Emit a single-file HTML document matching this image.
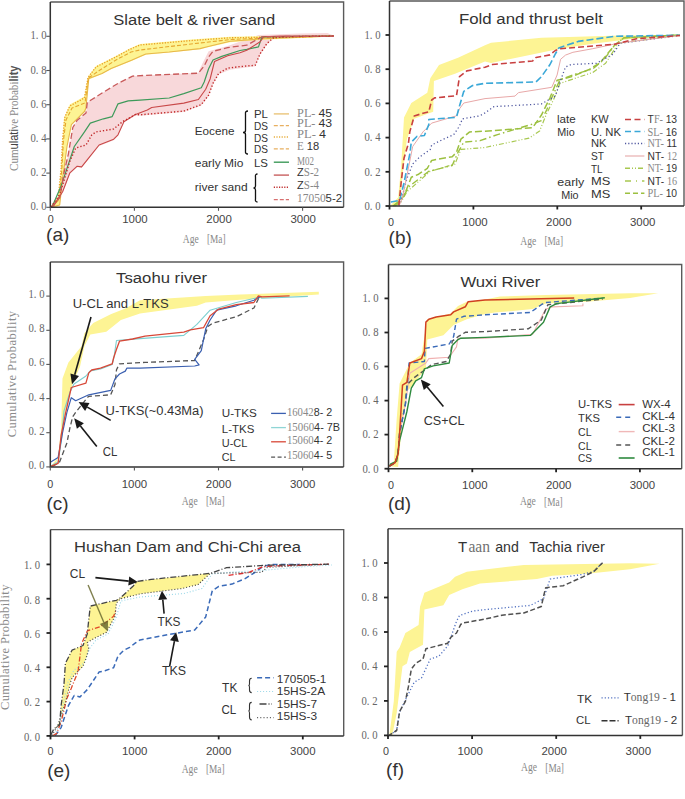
<!DOCTYPE html>
<html><head><meta charset="utf-8"><style>
html,body{margin:0;padding:0;background:#fff;}
svg{display:block;}
</style></head><body>
<svg width="685" height="799" viewBox="0 0 685 799">
<rect width="685" height="799" fill="#ffffff"/>
<path d="M56.0,207.0 L59.7,197.6 L64.0,172.8 L68.4,153.8 L72.8,127.5 L77.2,120.2 L86.0,112.9 L87.3,102.4 L103.4,92.2 L118.0,83.4 L132.6,76.1 L145.0,75.4 L198.4,72.8 L199.9,68.8 L204.2,60.0 L208.6,51.3 L227.6,46.0 L258.5,35.1 L300.0,33.5 L327.4,33.0 L334.0,35.8 L334.0,36.6 L273.6,38.5 L266.9,44.5 L260.2,54.6 L255.2,66.3 L230.0,69.7 L218.8,74.2 L213.0,84.4 L208.6,96.1 L201.3,105.6 L183.8,112.1 L140.0,115.8 L135.6,115.4 L122.5,122.7 L118.0,135.8 L113.7,140.2 L99.1,146.0 L87.4,160.6 L81.6,167.9 L77.2,167.2 L69.9,173.8 L62.6,192.8 L53.8,206.6 Z" fill="#F8D8DA" fill-opacity="1" stroke="none"/>
<path d="M51.0,206.0 L52.4,205.0 L58.2,197.6 L61.1,168.4 L62.6,139.2 L64.0,118.4 L69.8,104.6 L84.4,96.5 L88.0,76.8 L96.0,65.9 L115.0,56.4 L129.7,48.4 L140.0,44.0 L191.1,39.6 L230.0,36.8 L262.0,36.2 L334.0,35.6 L334.0,36.6 L263.6,39.8 L230.0,42.3 L207.2,47.4 L200.0,49.2 L169.2,52.6 L145.8,54.8 L140.0,57.2 L131.5,61.0 L111.1,69.2 L102.0,74.0 L88.8,79.5 L85.9,110.0 L84.5,111.5 L71.4,124.6 L67.0,146.5 L62.6,178.6 L59.7,205.6 L56.0,207.0 Z" fill="#FDF494" fill-opacity="1" stroke="none"/>
<path d="M52.0,207.0 L59.7,205.0 L62.6,178.6 L67.0,146.5 L71.4,124.6 L84.5,111.5 L85.9,108.0 L88.8,78.5 L102.0,73.5 L111.1,68.6 L131.5,60.3 L140.0,56.5 L145.8,54.0 L169.2,52.0 L200.0,48.6 L207.2,46.8 L230.0,41.3 L263.6,38.8 L334.0,36.0" fill="none" stroke="#E8B84A" stroke-width="1.1" stroke-linejoin="round" stroke-opacity="1"/>
<path d="M51.0,207.0 L59.0,200.0 L61.8,170.0 L63.5,140.0 L66.0,120.0 L72.0,108.0 L85.0,103.0 L88.4,78.0 L100.0,70.0 L116.0,60.0 L131.0,52.0 L140.0,50.0 L191.0,44.0 L230.0,39.6 L262.0,38.0 L334.0,36.0" fill="none" stroke="#E6A830" stroke-width="1.1" stroke-dasharray="4,2" stroke-linejoin="round" stroke-opacity="1"/>
<path d="M51.0,207.0 L58.2,197.6 L61.1,168.4 L62.6,139.2 L64.8,117.3 L69.8,106.0 L84.4,98.0 L88.0,77.5 L96.0,67.0 L115.0,57.4 L129.7,49.4 L140.0,45.0 L191.1,40.6 L230.0,37.8 L262.0,37.2 L334.0,36.0" fill="none" stroke="#E89A20" stroke-width="1.3" stroke-dasharray="1.2,1.5" stroke-linejoin="round" stroke-opacity="1"/>
<path d="M52.0,207.0 L61.1,185.9 L67.0,168.4 L74.3,146.5 L84.5,131.9 L90.3,123.1 L103.5,118.8 L112.2,116.6 L115.2,110.0 L118.0,103.8 L128.2,100.9 L140.0,100.2 L169.2,98.0 L183.8,93.6 L201.3,87.8 L204.2,82.0 L208.6,68.8 L213.0,60.0 L221.8,56.4 L240.0,50.5 L246.8,49.4 L258.5,46.9 L261.9,36.8 L300.0,36.3 L334.0,36.0" fill="none" stroke="#3E9A5A" stroke-width="1.2" stroke-linejoin="round" stroke-opacity="1"/>
<path d="M50.5,207.0 L53.8,205.6 L62.6,191.8 L69.9,172.8 L77.2,166.2 L81.6,166.9 L87.4,159.6 L99.1,145.0 L113.7,139.2 L118.0,134.8 L123.9,121.7 L135.6,114.4 L147.3,110.0 L151.7,107.5 L183.8,103.1 L198.4,99.5 L205.7,89.2 L210.1,79.0 L214.5,61.5 L227.6,55.7 L240.0,52.7 L246.8,50.2 L260.2,41.8 L263.6,36.8 L280.4,36.0 L330.7,36.3 L334.0,36.0" fill="none" stroke="#C84848" stroke-width="1.1" stroke-linejoin="round" stroke-opacity="1"/>
<path d="M51.0,207.0 L59.7,194.7 L69.9,161.1 L75.7,148.0 L86.0,145.0 L91.8,134.8 L96.2,131.9 L113.7,129.0 L122.5,121.7 L135.6,114.4 L140.0,114.8 L183.8,111.1 L201.3,104.6 L208.6,95.1 L213.0,83.4 L218.8,73.2 L227.6,68.1 L240.0,66.6 L255.2,65.3 L260.2,53.6 L266.9,43.5 L273.6,37.6 L300.0,36.5 L334.0,36.0" fill="none" stroke="#C02828" stroke-width="1.4" stroke-dasharray="1.3,2" stroke-linejoin="round" stroke-opacity="1"/>
<path d="M52.0,207.0 L59.7,197.6 L64.0,172.8 L68.4,153.8 L72.8,127.5 L77.2,120.2 L86.0,112.9 L87.3,102.4 L103.4,92.2 L118.0,83.4 L132.6,76.1 L145.0,75.4 L198.4,73.2 L204.2,65.9 L208.6,57.1 L213.0,51.3 L227.6,47.6 L246.8,45.2 L261.9,36.8 L300.0,36.3 L334.0,36.0" fill="none" stroke="#C85A5A" stroke-width="1.3" stroke-dasharray="6,3" stroke-linejoin="round" stroke-opacity="1"/>
<path d="M390.0,206.0 L398.1,197.6 L401.0,168.4 L404.0,117.6 L411.3,103.0 L427.3,92.8 L430.3,78.2 L439.0,65.0 L458.0,57.7 L485.0,45.3 L491.0,42.8 L541.4,37.8 L560.0,37.3 L620.2,35.6 L679.0,35.0 L679.0,36.2 L633.0,38.7 L596.5,43.2 L560.0,48.7 L551.5,50.4 L491.0,63.0 L485.0,61.4 L455.0,73.8 L433.9,81.1 L433.2,111.8 L414.2,118.8 L406.9,139.2 L402.5,175.7 L399.6,204.9 L397.0,206.0 Z" fill="#FDF494" fill-opacity="1" stroke="none"/>
<path d="M395.0,206.0 L401.0,202.0 L406.9,191.8 L430.3,171.3 L455.0,164.0 L460.9,149.4 L485.0,147.5 L529.1,138.1 L539.6,131.1 L546.6,113.6 L553.6,99.6 L560.0,83.4 L592.8,72.4 L605.6,63.3 L618.4,43.2 L680.0,35.0" fill="none" stroke="#A8C850" stroke-width="1.2" stroke-dasharray="5,2,1,2,1,2" stroke-linejoin="round" stroke-opacity="1"/>
<path d="M394.0,206.0 L400.0,201.0 L409.8,185.9 L428.8,171.3 L452.2,165.5 L458.0,152.3 L463.8,142.1 L480.0,140.7 L497.5,134.6 L532.6,124.1 L541.3,120.6 L546.6,110.1 L551.8,97.8 L560.0,79.7 L574.6,74.3 L592.8,68.8 L603.8,59.7 L614.7,45.1 L623.9,37.8 L680.0,35.0" fill="none" stroke="#9CC040" stroke-width="1.4" stroke-dasharray="7,3,1.5,3" stroke-linejoin="round" stroke-opacity="1"/>
<path d="M393.0,206.0 L398.0,202.0 L404.0,196.0 L411.3,177.2 L418.6,174.2 L427.3,168.4 L431.7,160.4 L452.2,156.7 L456.5,152.3 L460.9,139.2 L469.7,131.9 L485.0,131.2 L532.6,127.6 L541.3,115.3 L550.0,97.8 L557.1,80.3 L571.1,76.8 L588.6,69.8 L600.0,62.8 L614.7,45.1 L623.9,37.8 L680.0,35.0" fill="none" stroke="#9CC040" stroke-width="1.5" stroke-dasharray="7,3" stroke-linejoin="round" stroke-opacity="1"/>
<path d="M399.0,206.0 L401.1,200.5 L406.9,178.6 L412.7,164.0 L420.0,156.7 L430.3,149.4 L431.7,145.0 L443.4,139.2 L453.6,134.8 L459.5,126.1 L462.4,118.8 L479.9,115.8 L485.0,112.9 L494.0,106.6 L541.3,104.0 L555.3,96.1 L560.6,80.3 L565.5,67.0 L571.1,64.5 L596.5,63.3 L612.9,54.2 L620.2,43.2 L680.0,35.5" fill="none" stroke="#5058A0" stroke-width="1.3" stroke-dasharray="1.2,2.5" stroke-linejoin="round" stroke-opacity="1"/>
<path d="M399.0,206.0 L402.5,197.6 L406.9,175.7 L412.7,146.5 L423.0,131.9 L431.7,123.1 L446.3,118.8 L456.5,115.8 L459.5,108.8 L463.8,103.0 L485.0,98.6 L515.0,96.1 L518.5,92.6 L551.8,87.3 L557.1,75.0 L560.6,59.3 L565.5,55.1 L572.9,52.3 L592.8,48.7 L618.4,43.2 L680.0,35.5" fill="none" stroke="#E8A8A8" stroke-width="1.0" stroke-linejoin="round" stroke-opacity="1"/>
<path d="M390.8,202.0 L399.6,200.5 L404.0,183.0 L409.8,153.8 L411.3,142.1 L417.1,136.3 L424.4,135.5 L428.8,124.6 L428.8,119.5 L456.5,117.3 L459.5,105.9 L463.8,91.3 L472.6,85.5 L485.0,83.3 L536.0,82.0 L541.3,76.8 L550.0,64.5 L555.3,54.0 L558.8,47.9 L578.2,41.4 L614.7,36.3 L680.0,35.2" fill="none" stroke="#3AA8D8" stroke-width="1.6" stroke-dasharray="7,3" stroke-linejoin="round" stroke-opacity="1"/>
<path d="M398.9,205.0 L401.1,183.0 L404.0,158.2 L408.4,143.6 L409.8,131.9 L414.2,116.1 L423.0,113.2 L428.8,111.8 L431.7,100.0 L434.6,97.9 L456.5,95.7 L459.5,76.7 L466.8,70.9 L485.0,67.2 L492.3,64.5 L532.6,61.0 L536.0,57.5 L550.0,54.9 L555.3,50.5 L560.0,48.7 L614.7,44.2 L636.6,38.7 L680.0,35.5" fill="none" stroke="#C84040" stroke-width="1.6" stroke-dasharray="6,3" stroke-linejoin="round" stroke-opacity="1"/>
<text x="194.8" y="134.7" font-size="11.5" font-family='"Liberation Sans", sans-serif' fill="#333" textLength="39.7" lengthAdjust="spacingAndGlyphs">Eocene</text>
<text x="194.8" y="166.9" font-size="11.5" font-family='"Liberation Sans", sans-serif' fill="#333" textLength="48.6" lengthAdjust="spacingAndGlyphs">early Mio</text>
<text x="194.8" y="191.4" font-size="11.5" font-family='"Liberation Sans", sans-serif' fill="#333" textLength="52.8" lengthAdjust="spacingAndGlyphs">river sand</text>
<path d="M248,111 Q245.0,111 245.5,114 L245.5,130.5 Q245.5,132.5 243,132.5 Q245.5,132.5 245.5,134.5 L245.5,151 Q245.0,154 248,154" fill="none" stroke="#111" stroke-width="1.3"/>
<path d="M257.5,174 Q255.0,174 255.5,177 L255.5,186.0 Q255.5,188.0 253.5,188.0 Q255.5,188.0 255.5,190.0 L255.5,199 Q255.0,202 257.5,202" fill="none" stroke="#111" stroke-width="1.3"/>
<text x="253.9" y="118.3" font-size="11.5" font-family='"Liberation Sans", sans-serif' fill="#333" textLength="14" lengthAdjust="spacingAndGlyphs">PL</text>
<text x="253.9" y="129.5" font-size="11.5" font-family='"Liberation Sans", sans-serif' fill="#333" textLength="14" lengthAdjust="spacingAndGlyphs">DS</text>
<text x="253.9" y="141.7" font-size="11.5" font-family='"Liberation Sans", sans-serif' fill="#333" textLength="14" lengthAdjust="spacingAndGlyphs">DS</text>
<text x="253.9" y="152.9" font-size="11.5" font-family='"Liberation Sans", sans-serif' fill="#333" textLength="14" lengthAdjust="spacingAndGlyphs">DS</text>
<text x="253.9" y="166.9" font-size="11.5" font-family='"Liberation Sans", sans-serif' fill="#333" textLength="14" lengthAdjust="spacingAndGlyphs">LS</text>
<line x1="273.8" y1="113.9" x2="289" y2="113.9" stroke="#E8C070" stroke-width="1.3"/>
<line x1="273.8" y1="125.6" x2="289" y2="125.6" stroke="#E8B060" stroke-width="1.3" stroke-dasharray="4,2"/>
<line x1="273.8" y1="137" x2="289" y2="137" stroke="#E8B040" stroke-width="1.5" stroke-dasharray="1.2,1.4"/>
<line x1="273.8" y1="148.9" x2="289" y2="148.9" stroke="#E8B060" stroke-width="1.3" stroke-dasharray="4,2"/>
<line x1="273.8" y1="162.2" x2="289" y2="162.2" stroke="#3E9A5A" stroke-width="1.4"/>
<line x1="273.8" y1="175.1" x2="289" y2="175.1" stroke="#C86060" stroke-width="1.4"/>
<line x1="273.8" y1="187.2" x2="289" y2="187.2" stroke="#C03030" stroke-width="1.5" stroke-dasharray="1.2,1.4"/>
<line x1="273.8" y1="199.6" x2="289" y2="199.6" stroke="#D87070" stroke-width="1.4" stroke-dasharray="4,2"/>
<text x="297.1" y="116.7" font-size="11.5" textLength="35" lengthAdjust="spacingAndGlyphs"><tspan font-family='"Liberation Serif", serif' fill="#888">PL- </tspan><tspan font-family='"Liberation Sans", sans-serif' fill="#333">45</tspan></text>
<text x="297.1" y="127.2" font-size="11.5" textLength="35" lengthAdjust="spacingAndGlyphs"><tspan font-family='"Liberation Serif", serif' fill="#888">PL- </tspan><tspan font-family='"Liberation Sans", sans-serif' fill="#333">43</tspan></text>
<text x="297.1" y="137.7" font-size="11.5" textLength="29" lengthAdjust="spacingAndGlyphs"><tspan font-family='"Liberation Serif", serif' fill="#888">PL- </tspan><tspan font-family='"Liberation Sans", sans-serif' fill="#333">4</tspan></text>
<text x="297.1" y="150.1" font-size="11.5" textLength="22" lengthAdjust="spacingAndGlyphs"><tspan font-family='"Liberation Serif", serif' fill="#888">E </tspan><tspan font-family='"Liberation Sans", sans-serif' fill="#333">18</tspan></text>
<text x="297.1" y="164.6" font-size="11.5" textLength="17" lengthAdjust="spacingAndGlyphs"><tspan font-family='"Liberation Serif", serif' fill="#888">M02</tspan></text>
<text x="297.1" y="176.2" font-size="11.5" textLength="22" lengthAdjust="spacingAndGlyphs"><tspan font-family='"Liberation Sans", sans-serif' fill="#333">Z</tspan><tspan font-family='"Liberation Serif", serif' fill="#888">S-2</tspan></text>
<text x="297.1" y="189.1" font-size="11.5" textLength="22" lengthAdjust="spacingAndGlyphs"><tspan font-family='"Liberation Sans", sans-serif' fill="#333">Z</tspan><tspan font-family='"Liberation Serif", serif' fill="#888">S-4</tspan></text>
<text x="297.1" y="201.9" font-size="11.5" textLength="45" lengthAdjust="spacingAndGlyphs"><tspan font-family='"Liberation Serif", serif' fill="#888">17050</tspan><tspan font-family='"Liberation Sans", sans-serif' fill="#333">5-2</tspan></text>
<text x="556.9" y="123.4" font-size="11.5" font-family='"Liberation Sans", sans-serif' fill="#333" textLength="18.7" lengthAdjust="spacingAndGlyphs">late</text>
<text x="557.3" y="135.6" font-size="11.5" font-family='"Liberation Sans", sans-serif' fill="#333" textLength="17.4" lengthAdjust="spacingAndGlyphs">Mio</text>
<text x="557.3" y="186.2" font-size="11.5" font-family='"Liberation Sans", sans-serif' fill="#333" textLength="27" lengthAdjust="spacingAndGlyphs">early</text>
<text x="561.2" y="198.6" font-size="11.5" font-family='"Liberation Sans", sans-serif' fill="#333" textLength="17.4" lengthAdjust="spacingAndGlyphs">Mio</text>
<text x="591.0" y="123.4" font-size="11.5" font-family='"Liberation Sans", sans-serif' fill="#333" textLength="17.7" lengthAdjust="spacingAndGlyphs">KW</text>
<text x="591.0" y="135.6" font-size="11.5" font-family='"Liberation Sans", sans-serif' fill="#333" textLength="30" lengthAdjust="spacingAndGlyphs">U. NK</text>
<text x="591.0" y="147.4" font-size="11.5" font-family='"Liberation Sans", sans-serif' fill="#333" textLength="15.5" lengthAdjust="spacingAndGlyphs">NK</text>
<text x="591.0" y="160.0" font-size="11.5" font-family='"Liberation Sans", sans-serif' fill="#333" textLength="13" lengthAdjust="spacingAndGlyphs">ST</text>
<text x="591.0" y="172.5" font-size="11.5" font-family='"Liberation Sans", sans-serif' fill="#333" textLength="11.6" lengthAdjust="spacingAndGlyphs">TL</text>
<text x="591.0" y="185.2" font-size="11.5" font-family='"Liberation Sans", sans-serif' fill="#333" textLength="19.3" lengthAdjust="spacingAndGlyphs">MS</text>
<text x="591.0" y="197.6" font-size="11.5" font-family='"Liberation Sans", sans-serif' fill="#333" textLength="19.3" lengthAdjust="spacingAndGlyphs">MS</text>
<line x1="625" y1="119.5" x2="644.4" y2="119.5" stroke="#C84040" stroke-width="1.5" stroke-dasharray="6,3.5"/>
<line x1="625" y1="131.5" x2="644.4" y2="131.5" stroke="#3AA8D8" stroke-width="1.6" stroke-dasharray="6,3.5"/>
<line x1="625" y1="143.5" x2="644.4" y2="143.5" stroke="#5058A0" stroke-width="1.3" stroke-dasharray="1.2,2"/>
<line x1="625" y1="156" x2="644.4" y2="156" stroke="#E8B0B0" stroke-width="1.2"/>
<line x1="625" y1="168.3" x2="644.4" y2="168.3" stroke="#A8C850" stroke-width="1.5" stroke-dasharray="5,2,1,2,1,2"/>
<line x1="625" y1="181" x2="644.4" y2="181" stroke="#A8C850" stroke-width="1.5" stroke-dasharray="6,5,1,5"/>
<line x1="625" y1="193.3" x2="644.4" y2="193.3" stroke="#9CC040" stroke-width="1.6" stroke-dasharray="5,3"/>
<text x="647.6" y="123.4" font-size="11.5" textLength="29.5" lengthAdjust="spacingAndGlyphs"><tspan font-family='"Liberation Sans", sans-serif' fill="#333">T</tspan><tspan font-family='"Liberation Serif", serif' fill="#888">F- </tspan><tspan font-family='"Liberation Sans", sans-serif' fill="#333">13</tspan></text>
<text x="647.6" y="135.6" font-size="11.5" textLength="29.5" lengthAdjust="spacingAndGlyphs"><tspan font-family='"Liberation Serif", serif' fill="#888">SL- </tspan><tspan font-family='"Liberation Sans", sans-serif' fill="#333">16</tspan></text>
<text x="647.6" y="147.4" font-size="11.5" textLength="29.5" lengthAdjust="spacingAndGlyphs"><tspan font-family='"Liberation Serif", serif' fill="#888">NT- </tspan><tspan font-family='"Liberation Sans", sans-serif' fill="#333">11</tspan></text>
<text x="647.6" y="159.7" font-size="11.5" textLength="29.5" lengthAdjust="spacingAndGlyphs"><tspan font-family='"Liberation Sans", sans-serif' fill="#333">NT- </tspan><tspan font-family='"Liberation Serif", serif' fill="#888">12</tspan></text>
<text x="647.6" y="172" font-size="11.5" textLength="29.5" lengthAdjust="spacingAndGlyphs"><tspan font-family='"Liberation Serif", serif' fill="#888">NT- </tspan><tspan font-family='"Liberation Sans", sans-serif' fill="#333">19</tspan></text>
<text x="647.6" y="184.5" font-size="11.5" textLength="29.5" lengthAdjust="spacingAndGlyphs"><tspan font-family='"Liberation Sans", sans-serif' fill="#333">NT- </tspan><tspan font-family='"Liberation Serif", serif' fill="#888">16</tspan></text>
<text x="647.6" y="197" font-size="11.5" textLength="29.5" lengthAdjust="spacingAndGlyphs"><tspan font-family='"Liberation Serif", serif' fill="#888">PL- </tspan><tspan font-family='"Liberation Sans", sans-serif' fill="#333">10</tspan></text>
<path d="M51.0,466.0 L58.0,457.6 L61.1,428.4 L62.5,378.4 L68.4,362.4 L81.5,346.3 L84.4,333.2 L93.2,323.0 L110.7,314.2 L125.3,308.4 L140.0,300.3 L205.7,296.0 L240.0,294.6 L318.8,291.7 L318.8,294.6 L240.0,299.7 L205.7,302.5 L196.9,305.8 L140.0,313.5 L120.9,320.0 L106.3,331.7 L90.3,334.6 L84.4,346.3 L80.0,366.8 L72.7,383.1 L65.4,410.9 L58.1,457.6 L55.0,466.0 Z" fill="#FDF494" fill-opacity="1" stroke="none"/>
<path d="M52.3,466.4 L59.6,462.0 L66.9,443.0 L69.8,428.4 L72.7,416.7 L75.7,412.3 L87.3,397.7 L88.8,396.3 L110.7,394.8 L115.0,384.6 L116.5,369.7 L119.5,363.8 L145.0,362.4 L194.7,360.5 L203.5,339.7 L207.9,326.6 L212.3,323.3 L236.3,316.7 L253.9,308.0 L258.2,299.2 L260.4,296.4" fill="none" stroke="#555" stroke-width="1.3" stroke-dasharray="5,3" stroke-linejoin="round" stroke-opacity="1"/>
<path d="M50.8,466.0 L58.1,462.0 L61.5,440.0 L64.0,410.9 L70.0,392.0 L74.0,384.0 L86.0,376.0 L90.0,371.0 L100.5,369.0 L112.2,364.5 L114.0,357.0 L116.5,340.5 L140.0,338.6 L183.8,335.4 L196.9,324.4 L210.1,310.2 L236.3,302.5 L260.4,297.0 L261.9,298.2 L307.9,296.4" fill="none" stroke="#7CCFCF" stroke-width="1.1" stroke-linejoin="round" stroke-opacity="1"/>
<path d="M50.8,462.0 L58.1,457.6 L62.5,432.8 L66.9,412.3 L71.3,397.7 L75.7,400.7 L88.8,394.8 L110.7,390.4 L115.0,378.8 L119.5,374.0 L125.3,371.1 L126.8,368.2 L140.0,368.2 L194.7,366.0 L199.1,364.9 L194.7,359.4 L201.3,350.7 L205.7,328.8 L210.1,320.0 L216.6,310.2 L236.3,305.8 L253.9,300.3 L260.4,296.4" fill="none" stroke="#3A5FB0" stroke-width="1.2" stroke-linejoin="round" stroke-opacity="1"/>
<path d="M50.8,466.4 L58.1,463.4 L61.1,435.7 L65.4,413.8 L71.3,387.5 L85.9,383.1 L88.8,372.9 L91.7,370.0 L100.5,368.2 L112.2,363.8 L113.6,358.0 L116.5,349.2 L119.5,341.2 L132.6,339.0 L145.0,336.1 L183.8,332.1 L190.4,329.9 L203.5,327.7 L210.1,315.7 L218.8,309.1 L236.3,304.7 L253.9,302.5 L258.2,296.0 L261.9,296.8 L289.6,295.8" fill="none" stroke="#D84838" stroke-width="1.3" stroke-linejoin="round" stroke-opacity="1"/>
<line x1="91.0" y1="317.0" x2="74.7" y2="374.7" stroke="#1a1a1a" stroke-width="1.6" stroke-opacity="1"/>
<path d="M72.0,384.3 L70.4,373.5 L79.0,375.9 Z" fill="#1a1a1a" fill-opacity="1"/>
<line x1="110.7" y1="420.4" x2="87.3" y2="407.1" stroke="#1a1a1a" stroke-width="1.6" stroke-opacity="1"/>
<path d="M78.6,402.1 L89.5,403.1 L85.1,411.0 Z" fill="#1a1a1a" fill-opacity="1"/>
<line x1="96.8" y1="446.6" x2="80.4" y2="426.0" stroke="#1a1a1a" stroke-width="1.6" stroke-opacity="1"/>
<path d="M74.2,418.2 L83.9,423.2 L76.9,428.8 Z" fill="#1a1a1a" fill-opacity="1"/>
<text x="72.7" y="308.4" font-size="12" font-family='"Liberation Sans", sans-serif' fill="#333" textLength="96" lengthAdjust="spacingAndGlyphs">U-CL and L-TKS</text>
<text x="105.6" y="415.3" font-size="12" font-family='"Liberation Sans", sans-serif' fill="#333" textLength="98" lengthAdjust="spacingAndGlyphs">U-TKS(~0.43Ma)</text>
<text x="102.7" y="456.1" font-size="12" font-family='"Liberation Sans", sans-serif' fill="#333" textLength="14.6" lengthAdjust="spacingAndGlyphs">CL</text>
<text x="221.8" y="416.8" font-size="11.5" font-family='"Liberation Sans", sans-serif' fill="#333" textLength="35" lengthAdjust="spacingAndGlyphs">U-TKS</text>
<text x="221.8" y="432.5" font-size="11.5" font-family='"Liberation Sans", sans-serif' fill="#333" textLength="32.5" lengthAdjust="spacingAndGlyphs">L-TKS</text>
<text x="221.8" y="447.3" font-size="11.5" font-family='"Liberation Sans", sans-serif' fill="#333" textLength="25.6" lengthAdjust="spacingAndGlyphs">U-CL</text>
<text x="221.8" y="461.1" font-size="11.5" font-family='"Liberation Sans", sans-serif' fill="#333" textLength="13.8" lengthAdjust="spacingAndGlyphs">CL</text>
<line x1="271.1" y1="413.4" x2="285.9" y2="413.4" stroke="#3A5FB0" stroke-width="1.3"/>
<line x1="271.1" y1="427.6" x2="285.9" y2="427.6" stroke="#8FD5D5" stroke-width="1.3"/>
<line x1="271.1" y1="441.8" x2="285.9" y2="441.8" stroke="#D84838" stroke-width="1.3"/>
<line x1="271.1" y1="457.2" x2="285.9" y2="457.2" stroke="#555" stroke-width="1.3" stroke-dasharray="4,2.5"/>
<text x="286.9" y="415.8" font-size="11.5" textLength="45.3" lengthAdjust="spacingAndGlyphs"><tspan font-family='"Liberation Serif", serif' fill="#888">16042</tspan><tspan font-family='"Liberation Sans", sans-serif' fill="#333">8- 2</tspan></text>
<text x="286.9" y="431.1" font-size="11.5" textLength="53.2" lengthAdjust="spacingAndGlyphs"><tspan font-family='"Liberation Serif", serif' fill="#888">15060</tspan><tspan font-family='"Liberation Sans", sans-serif' fill="#333">4- 7B</tspan></text>
<text x="286.9" y="444.3" font-size="11.5" textLength="45.3" lengthAdjust="spacingAndGlyphs"><tspan font-family='"Liberation Serif", serif' fill="#888">15060</tspan><tspan font-family='"Liberation Sans", sans-serif' fill="#333">4- 2</tspan></text>
<text x="286.9" y="459.1" font-size="11.5" textLength="45.3" lengthAdjust="spacingAndGlyphs"><tspan font-family='"Liberation Serif", serif' fill="#888">15060</tspan><tspan font-family='"Liberation Sans", sans-serif' fill="#333">4- 5</tspan></text>
<path d="M389.4,466.2 L393.8,462.6 L396.7,418.8 L399.6,383.4 L409.8,363.0 L421.5,354.2 L424.4,336.7 L427.3,319.2 L450.7,313.4 L458.0,306.1 L466.8,301.7 L485.0,299.5 L500.0,296.5 L545.7,294.9 L630.0,293.3 L658.2,293.3 L630.0,298.1 L589.5,301.4 L545.7,303.6 L532.6,309.1 L495.0,312.6 L485.0,314.1 L466.8,319.2 L453.6,325.0 L443.4,335.3 L427.3,339.6 L425.9,368.8 L408.4,390.0 L406.9,389.6 L402.5,418.8 L398.1,467.0 Z" fill="#FDF494" fill-opacity="1" stroke="none"/>
<path d="M389.4,466.2 L395.2,462.6 L398.1,453.8 L399.6,433.4 L402.5,418.8 L405.4,404.2 L409.8,373.2 L425.9,363.0 L428.8,358.6 L449.2,357.2 L456.5,346.9 L458.0,338.2 L485.0,338.2 L532.6,334.3 L545.7,309.1 L552.3,306.9 L582.9,305.8 L582.9,303.6" fill="none" stroke="#F0B0B0" stroke-width="1.1" stroke-linejoin="round" stroke-opacity="1"/>
<path d="M389.4,466.2 L395.2,462.6 L398.1,453.8 L399.6,433.4 L402.5,418.8 L405.4,404.2 L406.9,384.9 L414.2,377.6 L424.4,370.3 L431.7,364.5 L446.3,361.5 L450.7,354.2 L452.2,341.1 L458.0,336.7 L465.3,332.3 L485.0,331.6 L528.2,328.8 L541.3,320.0 L547.9,304.7 L602.6,299.2" fill="none" stroke="#555" stroke-width="1.4" stroke-dasharray="5,3" stroke-linejoin="round" stroke-opacity="1"/>
<path d="M389.4,466.2 L395.2,462.6 L398.1,453.8 L399.6,433.4 L402.5,418.8 L405.4,404.2 L406.9,390.0 L409.1,363.0 L424.4,361.5 L425.1,348.4 L428.8,347.7 L449.2,344.0 L453.6,336.7 L456.5,319.2 L463.8,316.3 L485.0,314.8 L530.4,312.4 L541.3,304.7 L545.7,302.5 L602.6,298.1" fill="none" stroke="#3A6AB8" stroke-width="1.4" stroke-dasharray="5,3" stroke-linejoin="round" stroke-opacity="1"/>
<path d="M389.4,466.2 L390.8,464.0 L396.7,461.1 L399.6,440.7 L406.9,411.5 L411.3,388.1 L415.7,380.8 L421.5,377.6 L424.4,368.8 L433.2,365.9 L449.2,363.0 L452.2,345.5 L458.0,339.6 L460.9,338.2 L485.0,337.4 L530.4,335.4 L543.5,322.2 L550.1,306.9 L556.6,303.6 L604.8,297.7" fill="none" stroke="#2E8A3E" stroke-width="1.4" stroke-linejoin="round" stroke-opacity="1"/>
<path d="M389.4,466.2 L395.2,462.6 L398.1,453.8 L399.6,433.4 L402.5,385.2 L406.9,382.3 L409.8,363.0 L421.5,358.6 L424.4,351.3 L425.9,322.1 L428.8,319.2 L436.1,317.0 L450.7,314.8 L453.6,311.9 L465.3,306.8 L468.2,301.7 L485.0,299.9 L574.2,298.1" fill="none" stroke="#D04020" stroke-width="1.5" stroke-linejoin="round" stroke-opacity="1"/>
<line x1="443.4" y1="406.4" x2="427.2" y2="387.1" stroke="#1a1a1a" stroke-width="1.6" stroke-opacity="1"/>
<path d="M420.8,379.4 L430.7,384.2 L423.8,390.0 Z" fill="#1a1a1a" fill-opacity="1"/>
<text x="423.7" y="424.6" font-size="12" font-family='"Liberation Sans", sans-serif' fill="#333" textLength="40.9" lengthAdjust="spacingAndGlyphs">CS+CL</text>
<text x="578.1" y="408.4" font-size="11.5" font-family='"Liberation Sans", sans-serif' fill="#333" textLength="33.9" lengthAdjust="spacingAndGlyphs">U-TKS</text>
<text x="578.1" y="421.9" font-size="11.5" font-family='"Liberation Sans", sans-serif' fill="#333" textLength="21.8" lengthAdjust="spacingAndGlyphs">TKS</text>
<text x="578.1" y="436.1" font-size="11.5" font-family='"Liberation Sans", sans-serif' fill="#333" textLength="13.5" lengthAdjust="spacingAndGlyphs">CL</text>
<text x="578.1" y="450.4" font-size="11.5" font-family='"Liberation Sans", sans-serif' fill="#333" textLength="13.5" lengthAdjust="spacingAndGlyphs">CL</text>
<text x="578.1" y="462.1" font-size="11.5" font-family='"Liberation Sans", sans-serif' fill="#333" textLength="14" lengthAdjust="spacingAndGlyphs">CS</text>
<line x1="618.7" y1="404.6" x2="634.6" y2="404.6" stroke="#C84040" stroke-width="1.6"/>
<line x1="616.2" y1="417.3" x2="633.8" y2="417.3" stroke="#3A6AB8" stroke-width="1.4" stroke-dasharray="5,4"/>
<line x1="618.7" y1="431.6" x2="634.6" y2="431.6" stroke="#F0B8B8" stroke-width="1.4"/>
<line x1="616.2" y1="445" x2="633.8" y2="445" stroke="#555" stroke-width="1.5" stroke-dasharray="5,4"/>
<line x1="618.7" y1="458" x2="634.6" y2="458" stroke="#2E8A3E" stroke-width="1.6"/>
<text x="642.2" y="407.6" font-size="11.5" font-family='"Liberation Sans", sans-serif' fill="#333" textLength="28.5" lengthAdjust="spacingAndGlyphs">WX-4</text>
<text x="642.2" y="419.8" font-size="11.5" font-family='"Liberation Sans", sans-serif' fill="#333" textLength="32.7" lengthAdjust="spacingAndGlyphs">CKL-4</text>
<text x="642.2" y="431.6" font-size="11.5" font-family='"Liberation Sans", sans-serif' fill="#333" textLength="32.7" lengthAdjust="spacingAndGlyphs">CKL-3</text>
<text x="642.2" y="444.5" font-size="11.5" font-family='"Liberation Sans", sans-serif' fill="#333" textLength="32.7" lengthAdjust="spacingAndGlyphs">CKL-2</text>
<text x="642.2" y="456.3" font-size="11.5" font-family='"Liberation Sans", sans-serif' fill="#333" textLength="32.7" lengthAdjust="spacingAndGlyphs">CKL-1</text>
<path d="M53.8,729.0 L59.6,724.7 L61.1,705.7 L64.0,683.8 L65.4,663.4 L72.0,650.2 L83.0,645.5 L87.3,633.8 L88.8,619.2 L90.3,606.1 L109.2,601.7 L116.5,600.3 L120.4,597.8 L132.7,586.6 L136.8,581.5 L151.1,579.4 L210.4,573.3 L198.1,584.5 L181.7,588.6 L140.9,593.7 L120.4,598.8 L116.4,602.9 L115.0,616.3 L106.3,632.4 L94.6,638.2 L87.3,642.6 L88.8,648.8 L85.9,659.0 L83.0,666.3 L74.2,675.0 L71.3,679.4 L65.4,702.8 L58.0,725.0 Z" fill="#FDF494" fill-opacity="1" stroke="none"/>
<path d="M55.0,735.0 L60.0,722.0 L64.0,700.0 L68.0,682.0 L74.0,670.0 L84.0,663.0 L90.0,648.0 L96.0,640.0 L108.0,634.0 L116.0,618.0 L121.0,601.0 L140.0,597.0 L184.0,593.5 L202.0,588.5 L212.0,574.0 L232.0,572.0 L262.0,570.5 L300.0,567.0 L332.0,565.0" fill="none" stroke="#9AD8E8" stroke-width="1.1" stroke-dasharray="1,2" stroke-linejoin="round" stroke-opacity="1"/>
<path d="M55.2,735.6 L61.1,727.6 L64.0,718.8 L68.4,705.7 L74.2,695.5 L80.0,696.9 L87.3,689.6 L99.0,672.1 L104.9,670.7 L113.6,667.7 L118.0,656.1 L123.8,650.2 L129.7,647.3 L135.5,642.9 L140.0,639.9 L175.0,633.4 L194.7,630.1 L205.7,616.9 L212.3,590.7 L218.8,586.3 L232.0,584.1 L245.1,578.6 L253.9,573.1 L262.6,566.6 L271.4,564.4 L300.0,564.5" fill="none" stroke="#3A6AB8" stroke-width="1.5" stroke-dasharray="5,3" stroke-linejoin="round" stroke-opacity="1"/>
<path d="M53.0,735.5 L56.7,733.4 L61.1,721.8 L66.9,698.4 L71.3,688.2 L74.2,680.9 L78.0,672.0 L81.5,644.0 L87.3,630.9 L100.5,626.5 L113.6,616.3 L116.0,610.0" fill="none" stroke="#E04828" stroke-width="1.3" stroke-dasharray="5,2,1,2" stroke-linejoin="round" stroke-opacity="1"/>
<path d="M228.6,575.4 L249.0,572.4 L261.3,567.3 L267.4,566.2 L328.8,564.2" fill="none" stroke="#E03030" stroke-width="1.4" stroke-dasharray="5,2,1,2" stroke-linejoin="round" stroke-opacity="1"/>
<path d="M52.0,735.5 L58.0,725.0 L65.4,702.8 L71.3,679.4 L74.2,675.0 L83.0,666.3 L85.9,659.0 L88.8,648.8 L87.3,642.6 L94.6,638.2 L106.3,632.4 L115.0,616.3 L116.4,602.9 L120.4,598.8 L140.9,593.7 L181.7,588.6 L198.1,584.5 L210.4,573.3 L261.3,572.4 L267.4,567.3 L328.8,564.2" fill="none" stroke="#444" stroke-width="1.2" stroke-dasharray="1,2" stroke-linejoin="round" stroke-opacity="1"/>
<path d="M50.8,735.0 L53.8,729.0 L59.6,724.7 L61.1,705.7 L64.0,683.8 L65.4,663.4 L72.0,650.2 L83.0,645.5 L87.3,633.8 L88.8,619.2 L90.3,606.1 L109.2,601.7 L116.5,600.3 L120.4,597.8 L132.7,586.6 L136.8,581.5 L151.1,579.4 L210.4,573.3 L226.6,567.7 L267.4,565.2 L328.8,564.2" fill="none" stroke="#444" stroke-width="1.3" stroke-dasharray="6,2,1,2" stroke-linejoin="round" stroke-opacity="1"/>
<line x1="95.4" y1="577.6" x2="128.7" y2="581.1" stroke="#1a1a1a" stroke-width="1.6" stroke-opacity="1"/>
<path d="M137.7,582.0 L128.3,585.5 L129.2,576.6 Z" fill="#1a1a1a" fill-opacity="1"/>
<line x1="88.1" y1="584.9" x2="103.9" y2="622.4" stroke="#6a6a30" stroke-width="1.4" stroke-opacity="0.85"/>
<path d="M107.8,631.6 L99.8,624.1 L108.1,620.6 Z" fill="#6a6a30" fill-opacity="0.85"/>
<line x1="164.1" y1="613.6" x2="162.8" y2="599.7" stroke="#1a1a1a" stroke-width="1.6" stroke-opacity="1"/>
<path d="M161.9,590.7 L167.2,599.2 L158.3,600.1 Z" fill="#1a1a1a" fill-opacity="1"/>
<line x1="169.6" y1="666.3" x2="174.4" y2="641.1" stroke="#1a1a1a" stroke-width="1.6" stroke-opacity="1"/>
<path d="M176.1,632.3 L178.8,642.0 L170.0,640.3 Z" fill="#1a1a1a" fill-opacity="1"/>
<text x="69.8" y="577.6" font-size="12" font-family='"Liberation Sans", sans-serif' fill="#333" textLength="15.3" lengthAdjust="spacingAndGlyphs">CL</text>
<text x="157.5" y="625.7" font-size="12" font-family='"Liberation Sans", sans-serif' fill="#333" textLength="23" lengthAdjust="spacingAndGlyphs">TKS</text>
<text x="161.9" y="674.6" font-size="12" font-family='"Liberation Sans", sans-serif' fill="#333" textLength="24.1" lengthAdjust="spacingAndGlyphs">TKS</text>
<text x="222.1" y="692.1" font-size="12" font-family='"Liberation Sans", sans-serif' fill="#333" textLength="15.3" lengthAdjust="spacingAndGlyphs">TK</text>
<text x="221.5" y="714.4" font-size="12" font-family='"Liberation Sans", sans-serif' fill="#333" textLength="14.8" lengthAdjust="spacingAndGlyphs">CL</text>
<path d="M251.7,678.3 Q249.5,678.3 249.5,681 L249.5,684 Q249.5,685.5 248.4,685.5 Q249.5,685.5 249.5,687 L249.5,690 Q249.5,692.6 251.7,692.6" fill="none" stroke="#333" stroke-width="1.1"/>
<path d="M251.7,702.4 Q249.5,702.4 249.5,705 L249.5,709 Q249.5,711 248.4,711 Q249.5,711 249.5,713 L249.5,717 Q249.5,719.9 251.7,719.9" fill="none" stroke="#333" stroke-width="1.1"/>
<line x1="257.1" y1="677.7" x2="273.6" y2="677.7" stroke="#3A6AB8" stroke-width="1.5" stroke-dasharray="5,3"/>
<line x1="257.1" y1="691.5" x2="273.6" y2="691.5" stroke="#9AD8E8" stroke-width="1.2" stroke-dasharray="1,2"/>
<line x1="259.5" y1="703.9" x2="272" y2="703.9" stroke="#444" stroke-width="1.5" stroke-dasharray="7,2,1,2"/>
<line x1="257.1" y1="717.7" x2="273.6" y2="717.7" stroke="#555" stroke-width="1.2" stroke-dasharray="1,2.2"/>
<text x="276.8" y="682.5" font-size="11.5" font-family='"Liberation Sans", sans-serif' fill="#333" textLength="49.6" lengthAdjust="spacingAndGlyphs">170505-1</text>
<text x="276.8" y="695.3" font-size="11.5" font-family='"Liberation Sans", sans-serif' fill="#333" textLength="48.3" lengthAdjust="spacingAndGlyphs">15HS-2A</text>
<text x="276.8" y="707.8" font-size="11.5" font-family='"Liberation Sans", sans-serif' fill="#333" textLength="40.2" lengthAdjust="spacingAndGlyphs">15HS-7</text>
<text x="276.8" y="720.0" font-size="11.5" font-family='"Liberation Sans", sans-serif' fill="#333" textLength="40.2" lengthAdjust="spacingAndGlyphs">15HS-3</text>
<path d="M389.4,734.9 L393.8,701.3 L396.7,651.7 L399.6,647.6 L405.4,633.0 L418.6,625.0 L420.0,606.7 L424.4,592.8 L449.2,582.6 L455.1,576.8 L466.8,571.7 L485.0,569.5 L523.8,564.9 L630.0,563.3 L659.5,563.8 L630.0,569.2 L589.5,573.6 L552.3,575.8 L536.9,579.1 L480.0,583.5 L462.4,589.2 L449.2,595.0 L443.4,605.3 L424.4,609.6 L423.0,644.7 L409.8,652.0 L406.9,663.4 L402.5,666.3 L396.7,713.0 L392.3,734.9 Z" fill="#FDF494" fill-opacity="1" stroke="none"/>
<path d="M390.0,735.0 L396.7,730.0 L399.6,712.0 L404.0,702.8 L409.8,691.1 L414.2,682.3 L421.5,678.0 L430.3,659.0 L439.0,656.1 L447.8,645.8 L456.5,621.3 L459.5,615.5 L472.6,611.1 L485.0,609.6 L530.4,605.4 L543.5,598.8 L550.1,579.1 L580.7,574.7 L593.9,571.4 L601.5,563.8" fill="none" stroke="#5070C0" stroke-width="1.3" stroke-dasharray="1.2,2.2" stroke-linejoin="round" stroke-opacity="1"/>
<path d="M388.0,736.0 L396.7,730.5 L399.6,711.5 L405.4,701.3 L408.4,686.7 L411.3,669.2 L415.7,663.4 L423.0,659.0 L425.9,648.8 L447.8,643.2 L450.7,637.4 L456.5,633.0 L460.9,624.2 L463.8,622.8 L485.0,619.1 L501.9,615.2 L523.8,613.0 L541.3,606.5 L543.5,596.6 L545.7,587.8 L563.2,585.7 L582.9,576.9 L593.9,571.4 L602.6,562.7" fill="none" stroke="#505050" stroke-width="1.5" stroke-dasharray="5,2.5" stroke-linejoin="round" stroke-opacity="1"/>
<text x="577.0" y="702.9" font-size="11.5" font-family='"Liberation Sans", sans-serif' fill="#333" textLength="15.3" lengthAdjust="spacingAndGlyphs">TK</text>
<text x="576.0" y="724.4" font-size="11.5" font-family='"Liberation Sans", sans-serif' fill="#333" textLength="14.5" lengthAdjust="spacingAndGlyphs">CL</text>
<line x1="601.5" y1="697.8" x2="618.6" y2="697.8" stroke="#5070C0" stroke-width="1.3" stroke-dasharray="1.2,2"/>
<line x1="601.5" y1="720.8" x2="618.6" y2="720.8" stroke="#333" stroke-width="1.5" stroke-dasharray="6,2"/>
<text x="623.7" y="701.3" font-size="11.5" textLength="52.3" lengthAdjust="spacingAndGlyphs"><tspan font-family='"Liberation Sans", sans-serif' fill="#333">T</tspan><tspan font-family='"Liberation Serif", serif' fill="#666">ong19 - </tspan><tspan font-family='"Liberation Sans", sans-serif' fill="#333">1</tspan></text>
<text x="625" y="723.8" font-size="11.5" textLength="52.3" lengthAdjust="spacingAndGlyphs"><tspan font-family='"Liberation Sans", sans-serif' fill="#333">T</tspan><tspan font-family='"Liberation Serif", serif' fill="#666">ong19 - </tspan><tspan font-family='"Liberation Sans", sans-serif' fill="#333">2</tspan></text>
<path d="M50.3,2.0 L343.6,2.0 L343.6,207.3" fill="none" stroke="#5a5a5a" stroke-width="1.4"/>
<path d="M50.3,2.0 L50.3,207.3 L343.6,207.3" fill="none" stroke="#333" stroke-width="1.5"/>
<line x1="46.3" y1="207.3" x2="50.3" y2="207.3" stroke="#555" stroke-width="1.1"/>
<line x1="46.3" y1="173.1" x2="50.3" y2="173.1" stroke="#555" stroke-width="1.1"/>
<line x1="46.3" y1="138.9" x2="50.3" y2="138.9" stroke="#555" stroke-width="1.1"/>
<line x1="46.3" y1="104.7" x2="50.3" y2="104.7" stroke="#555" stroke-width="1.1"/>
<line x1="46.3" y1="70.5" x2="50.3" y2="70.5" stroke="#555" stroke-width="1.1"/>
<line x1="46.3" y1="36.3" x2="50.3" y2="36.3" stroke="#555" stroke-width="1.1"/>
<line x1="50.3" y1="207.3" x2="50.3" y2="210.8" stroke="#555" stroke-width="1.1"/>
<line x1="134.4" y1="207.3" x2="134.4" y2="210.8" stroke="#555" stroke-width="1.1"/>
<line x1="218.5" y1="207.3" x2="218.5" y2="210.8" stroke="#555" stroke-width="1.1"/>
<line x1="302.6" y1="207.3" x2="302.6" y2="210.8" stroke="#555" stroke-width="1.1"/>
<path d="M389.5,1.0 L684.0,1.0 L684.0,206.0" fill="none" stroke="#5a5a5a" stroke-width="1.4"/>
<path d="M389.5,1.0 L389.5,206.0 L684.0,206.0" fill="none" stroke="#333" stroke-width="1.5"/>
<line x1="385.5" y1="206.0" x2="389.5" y2="206.0" stroke="#222" stroke-width="1.8"/>
<line x1="385.5" y1="171.8" x2="389.5" y2="171.8" stroke="#222" stroke-width="1.8"/>
<line x1="385.5" y1="137.6" x2="389.5" y2="137.6" stroke="#222" stroke-width="1.8"/>
<line x1="385.5" y1="103.4" x2="389.5" y2="103.4" stroke="#222" stroke-width="1.8"/>
<line x1="385.5" y1="69.2" x2="389.5" y2="69.2" stroke="#222" stroke-width="1.8"/>
<line x1="385.5" y1="35.0" x2="389.5" y2="35.0" stroke="#222" stroke-width="1.8"/>
<line x1="389.5" y1="206.0" x2="389.5" y2="209.5" stroke="#222" stroke-width="1.8"/>
<line x1="473.4" y1="206.0" x2="473.4" y2="209.5" stroke="#222" stroke-width="1.8"/>
<line x1="557.3" y1="206.0" x2="557.3" y2="209.5" stroke="#222" stroke-width="1.8"/>
<line x1="641.2" y1="206.0" x2="641.2" y2="209.5" stroke="#222" stroke-width="1.8"/>
<path d="M50.3,262.0 L343.6,262.0 L343.6,466.9" fill="none" stroke="#5a5a5a" stroke-width="1.4"/>
<path d="M50.3,262.0 L50.3,466.9 L343.6,466.9" fill="none" stroke="#333" stroke-width="1.5"/>
<line x1="46.3" y1="466.9" x2="50.3" y2="466.9" stroke="#555" stroke-width="1.1"/>
<line x1="46.3" y1="432.7" x2="50.3" y2="432.7" stroke="#555" stroke-width="1.1"/>
<line x1="46.3" y1="398.6" x2="50.3" y2="398.6" stroke="#555" stroke-width="1.1"/>
<line x1="46.3" y1="364.4" x2="50.3" y2="364.4" stroke="#555" stroke-width="1.1"/>
<line x1="46.3" y1="330.3" x2="50.3" y2="330.3" stroke="#555" stroke-width="1.1"/>
<line x1="46.3" y1="296.1" x2="50.3" y2="296.1" stroke="#555" stroke-width="1.1"/>
<line x1="50.3" y1="466.9" x2="50.3" y2="470.4" stroke="#555" stroke-width="1.1"/>
<line x1="134.4" y1="466.9" x2="134.4" y2="470.4" stroke="#555" stroke-width="1.1"/>
<line x1="218.5" y1="466.9" x2="218.5" y2="470.4" stroke="#555" stroke-width="1.1"/>
<line x1="302.6" y1="466.9" x2="302.6" y2="470.4" stroke="#555" stroke-width="1.1"/>
<path d="M388.5,264.5 L681.7,264.5 L681.7,468.7" fill="none" stroke="#5a5a5a" stroke-width="1.4"/>
<path d="M388.5,264.5 L388.5,468.7 L681.7,468.7" fill="none" stroke="#333" stroke-width="1.5"/>
<line x1="384.5" y1="468.7" x2="388.5" y2="468.7" stroke="#222" stroke-width="1.8"/>
<line x1="384.5" y1="434.6" x2="388.5" y2="434.6" stroke="#222" stroke-width="1.8"/>
<line x1="384.5" y1="400.6" x2="388.5" y2="400.6" stroke="#222" stroke-width="1.8"/>
<line x1="384.5" y1="366.5" x2="388.5" y2="366.5" stroke="#222" stroke-width="1.8"/>
<line x1="384.5" y1="332.5" x2="388.5" y2="332.5" stroke="#222" stroke-width="1.8"/>
<line x1="384.5" y1="298.4" x2="388.5" y2="298.4" stroke="#222" stroke-width="1.8"/>
<line x1="388.5" y1="468.7" x2="388.5" y2="472.2" stroke="#222" stroke-width="1.8"/>
<line x1="472.3" y1="468.7" x2="472.3" y2="472.2" stroke="#222" stroke-width="1.8"/>
<line x1="556.1" y1="468.7" x2="556.1" y2="472.2" stroke="#222" stroke-width="1.8"/>
<line x1="639.9" y1="468.7" x2="639.9" y2="472.2" stroke="#222" stroke-width="1.8"/>
<path d="M50.5,529.6 L343.7,529.6 L343.7,735.9" fill="none" stroke="#5a5a5a" stroke-width="1.4"/>
<path d="M50.5,529.6 L50.5,735.9 L343.7,735.9" fill="none" stroke="#333" stroke-width="1.5"/>
<line x1="46.5" y1="735.9" x2="50.5" y2="735.9" stroke="#222" stroke-width="1.8"/>
<line x1="46.5" y1="701.6" x2="50.5" y2="701.6" stroke="#222" stroke-width="1.8"/>
<line x1="46.5" y1="667.3" x2="50.5" y2="667.3" stroke="#222" stroke-width="1.8"/>
<line x1="46.5" y1="633.0" x2="50.5" y2="633.0" stroke="#222" stroke-width="1.8"/>
<line x1="46.5" y1="598.7" x2="50.5" y2="598.7" stroke="#222" stroke-width="1.8"/>
<line x1="46.5" y1="564.4" x2="50.5" y2="564.4" stroke="#222" stroke-width="1.8"/>
<line x1="50.5" y1="735.9" x2="50.5" y2="739.4" stroke="#222" stroke-width="1.8"/>
<line x1="134.6" y1="735.9" x2="134.6" y2="739.4" stroke="#222" stroke-width="1.8"/>
<line x1="218.7" y1="735.9" x2="218.7" y2="739.4" stroke="#222" stroke-width="1.8"/>
<line x1="302.8" y1="735.9" x2="302.8" y2="739.4" stroke="#222" stroke-width="1.8"/>
<path d="M388.0,528.8 L682.4,528.8 L682.4,735.4" fill="none" stroke="#5a5a5a" stroke-width="1.4"/>
<path d="M388.0,528.8 L388.0,735.4 L682.4,735.4" fill="none" stroke="#333" stroke-width="1.5"/>
<line x1="384.0" y1="735.4" x2="388.0" y2="735.4" stroke="#222" stroke-width="1.8"/>
<line x1="384.0" y1="700.9" x2="388.0" y2="700.9" stroke="#222" stroke-width="1.8"/>
<line x1="384.0" y1="666.4" x2="388.0" y2="666.4" stroke="#222" stroke-width="1.8"/>
<line x1="384.0" y1="632.0" x2="388.0" y2="632.0" stroke="#222" stroke-width="1.8"/>
<line x1="384.0" y1="597.5" x2="388.0" y2="597.5" stroke="#222" stroke-width="1.8"/>
<line x1="384.0" y1="563.0" x2="388.0" y2="563.0" stroke="#222" stroke-width="1.8"/>
<line x1="388.0" y1="735.4" x2="388.0" y2="738.9" stroke="#222" stroke-width="1.8"/>
<line x1="472.1" y1="735.4" x2="472.1" y2="738.9" stroke="#222" stroke-width="1.8"/>
<line x1="556.2" y1="735.4" x2="556.2" y2="738.9" stroke="#222" stroke-width="1.8"/>
<line x1="640.3" y1="735.4" x2="640.3" y2="738.9" stroke="#222" stroke-width="1.8"/>
<text x="30.5" y="210.3" font-size="12" font-family='"Liberation Serif", serif' fill="#666" textLength="16" lengthAdjust="spacingAndGlyphs">0. 0</text>
<text x="30.5" y="176.1" font-size="12" font-family='"Liberation Serif", serif' fill="#666" textLength="16" lengthAdjust="spacingAndGlyphs">0. 2</text>
<text x="30.5" y="141.9" font-size="12" font-family='"Liberation Serif", serif' fill="#666" textLength="16" lengthAdjust="spacingAndGlyphs">0. 4</text>
<text x="30.5" y="107.7" font-size="12" font-family='"Liberation Serif", serif' fill="#666" textLength="16" lengthAdjust="spacingAndGlyphs">0. 6</text>
<text x="30.5" y="73.5" font-size="12" font-family='"Liberation Serif", serif' fill="#666" textLength="16" lengthAdjust="spacingAndGlyphs">0. 8</text>
<text x="30.5" y="39.3" font-size="12" font-family='"Liberation Serif", serif' fill="#666" textLength="16" lengthAdjust="spacingAndGlyphs">1. 0</text>
<text x="364.5" y="209.8" font-size="12" font-family='"Liberation Serif", serif' fill="#666" textLength="16" lengthAdjust="spacingAndGlyphs">0. 0</text>
<text x="364.5" y="175.6" font-size="12" font-family='"Liberation Serif", serif' fill="#666" textLength="16" lengthAdjust="spacingAndGlyphs">0. 2</text>
<text x="364.5" y="141.4" font-size="12" font-family='"Liberation Serif", serif' fill="#666" textLength="16" lengthAdjust="spacingAndGlyphs">0. 4</text>
<text x="364.5" y="107.2" font-size="12" font-family='"Liberation Serif", serif' fill="#666" textLength="16" lengthAdjust="spacingAndGlyphs">0. 6</text>
<text x="364.5" y="73.0" font-size="12" font-family='"Liberation Serif", serif' fill="#666" textLength="16" lengthAdjust="spacingAndGlyphs">0. 8</text>
<text x="364.5" y="38.8" font-size="12" font-family='"Liberation Serif", serif' fill="#666" textLength="16" lengthAdjust="spacingAndGlyphs">1. 0</text>
<text x="28.5" y="468.9" font-size="12" font-family='"Liberation Serif", serif' fill="#666" textLength="16" lengthAdjust="spacingAndGlyphs">0. 0</text>
<text x="28.5" y="434.7" font-size="12" font-family='"Liberation Serif", serif' fill="#666" textLength="16" lengthAdjust="spacingAndGlyphs">0. 2</text>
<text x="28.5" y="400.6" font-size="12" font-family='"Liberation Serif", serif' fill="#666" textLength="16" lengthAdjust="spacingAndGlyphs">0. 4</text>
<text x="28.5" y="366.4" font-size="12" font-family='"Liberation Serif", serif' fill="#666" textLength="16" lengthAdjust="spacingAndGlyphs">0. 6</text>
<text x="28.5" y="332.3" font-size="12" font-family='"Liberation Serif", serif' fill="#666" textLength="16" lengthAdjust="spacingAndGlyphs">0. 8</text>
<text x="28.5" y="298.1" font-size="12" font-family='"Liberation Serif", serif' fill="#666" textLength="16" lengthAdjust="spacingAndGlyphs">1. 0</text>
<text x="362.5" y="472.5" font-size="12" font-family='"Liberation Serif", serif' fill="#666" textLength="16" lengthAdjust="spacingAndGlyphs">0. 0</text>
<text x="362.5" y="438.4" font-size="12" font-family='"Liberation Serif", serif' fill="#666" textLength="16" lengthAdjust="spacingAndGlyphs">0. 2</text>
<text x="362.5" y="404.4" font-size="12" font-family='"Liberation Serif", serif' fill="#666" textLength="16" lengthAdjust="spacingAndGlyphs">0. 4</text>
<text x="362.5" y="370.3" font-size="12" font-family='"Liberation Serif", serif' fill="#666" textLength="16" lengthAdjust="spacingAndGlyphs">0. 6</text>
<text x="362.5" y="336.3" font-size="12" font-family='"Liberation Serif", serif' fill="#666" textLength="16" lengthAdjust="spacingAndGlyphs">0. 8</text>
<text x="362.5" y="302.2" font-size="12" font-family='"Liberation Serif", serif' fill="#666" textLength="16" lengthAdjust="spacingAndGlyphs">1. 0</text>
<text x="24.0" y="740.7" font-size="12" font-family='"Liberation Serif", serif' fill="#666" textLength="16" lengthAdjust="spacingAndGlyphs">0. 0</text>
<text x="24.0" y="706.4" font-size="12" font-family='"Liberation Serif", serif' fill="#666" textLength="16" lengthAdjust="spacingAndGlyphs">0. 2</text>
<text x="24.0" y="672.1" font-size="12" font-family='"Liberation Serif", serif' fill="#666" textLength="16" lengthAdjust="spacingAndGlyphs">0. 4</text>
<text x="24.0" y="637.8" font-size="12" font-family='"Liberation Serif", serif' fill="#666" textLength="16" lengthAdjust="spacingAndGlyphs">0. 6</text>
<text x="24.0" y="603.5" font-size="12" font-family='"Liberation Serif", serif' fill="#666" textLength="16" lengthAdjust="spacingAndGlyphs">0. 8</text>
<text x="24.0" y="569.2" font-size="12" font-family='"Liberation Serif", serif' fill="#666" textLength="16" lengthAdjust="spacingAndGlyphs">1. 0</text>
<text x="361.5" y="739.2" font-size="12" font-family='"Liberation Serif", serif' fill="#666" textLength="16" lengthAdjust="spacingAndGlyphs">0. 0</text>
<text x="361.5" y="704.7" font-size="12" font-family='"Liberation Serif", serif' fill="#666" textLength="16" lengthAdjust="spacingAndGlyphs">0. 2</text>
<text x="361.5" y="670.2" font-size="12" font-family='"Liberation Serif", serif' fill="#666" textLength="16" lengthAdjust="spacingAndGlyphs">0. 4</text>
<text x="361.5" y="635.8" font-size="12" font-family='"Liberation Serif", serif' fill="#666" textLength="16" lengthAdjust="spacingAndGlyphs">0. 6</text>
<text x="361.5" y="601.3" font-size="12" font-family='"Liberation Serif", serif' fill="#666" textLength="16" lengthAdjust="spacingAndGlyphs">0. 8</text>
<text x="361.5" y="566.8" font-size="12" font-family='"Liberation Serif", serif' fill="#666" textLength="16" lengthAdjust="spacingAndGlyphs">1. 0</text>
<text x="47.8" y="222.6" font-size="11" font-family='"Liberation Sans", sans-serif' fill="#444" textLength="6" lengthAdjust="spacingAndGlyphs">0</text>
<text x="122.2" y="222.6" font-size="11" font-family='"Liberation Sans", sans-serif' fill="#444" textLength="25.5" lengthAdjust="spacingAndGlyphs">1000</text>
<text x="206.3" y="222.6" font-size="11" font-family='"Liberation Sans", sans-serif' fill="#444" textLength="25.5" lengthAdjust="spacingAndGlyphs">2000</text>
<text x="290.4" y="222.6" font-size="11" font-family='"Liberation Sans", sans-serif' fill="#444" textLength="25.5" lengthAdjust="spacingAndGlyphs">3000</text>
<text x="388.0" y="225.8" font-size="11" font-family='"Liberation Sans", sans-serif' fill="#444" textLength="6" lengthAdjust="spacingAndGlyphs">0</text>
<text x="462.2" y="225.8" font-size="11" font-family='"Liberation Sans", sans-serif' fill="#444" textLength="25.5" lengthAdjust="spacingAndGlyphs">1000</text>
<text x="546.1" y="225.8" font-size="11" font-family='"Liberation Sans", sans-serif' fill="#444" textLength="25.5" lengthAdjust="spacingAndGlyphs">2000</text>
<text x="630.0" y="225.8" font-size="11" font-family='"Liberation Sans", sans-serif' fill="#444" textLength="25.5" lengthAdjust="spacingAndGlyphs">3000</text>
<text x="47.3" y="488.1" font-size="11" font-family='"Liberation Sans", sans-serif' fill="#444" textLength="6" lengthAdjust="spacingAndGlyphs">0</text>
<text x="121.7" y="488.1" font-size="11" font-family='"Liberation Sans", sans-serif' fill="#444" textLength="25.5" lengthAdjust="spacingAndGlyphs">1000</text>
<text x="205.8" y="488.1" font-size="11" font-family='"Liberation Sans", sans-serif' fill="#444" textLength="25.5" lengthAdjust="spacingAndGlyphs">2000</text>
<text x="289.9" y="488.1" font-size="11" font-family='"Liberation Sans", sans-serif' fill="#444" textLength="25.5" lengthAdjust="spacingAndGlyphs">3000</text>
<text x="388.0" y="489.4" font-size="11" font-family='"Liberation Sans", sans-serif' fill="#444" textLength="6" lengthAdjust="spacingAndGlyphs">0</text>
<text x="462.1" y="489.4" font-size="11" font-family='"Liberation Sans", sans-serif' fill="#444" textLength="25.5" lengthAdjust="spacingAndGlyphs">1000</text>
<text x="545.9" y="489.4" font-size="11" font-family='"Liberation Sans", sans-serif' fill="#444" textLength="25.5" lengthAdjust="spacingAndGlyphs">2000</text>
<text x="629.7" y="489.4" font-size="11" font-family='"Liberation Sans", sans-serif' fill="#444" textLength="25.5" lengthAdjust="spacingAndGlyphs">3000</text>
<text x="47.5" y="754.5" font-size="11" font-family='"Liberation Sans", sans-serif' fill="#444" textLength="6" lengthAdjust="spacingAndGlyphs">0</text>
<text x="121.9" y="754.5" font-size="11" font-family='"Liberation Sans", sans-serif' fill="#444" textLength="25.5" lengthAdjust="spacingAndGlyphs">1000</text>
<text x="206.0" y="754.5" font-size="11" font-family='"Liberation Sans", sans-serif' fill="#444" textLength="25.5" lengthAdjust="spacingAndGlyphs">2000</text>
<text x="290.1" y="754.5" font-size="11" font-family='"Liberation Sans", sans-serif' fill="#444" textLength="25.5" lengthAdjust="spacingAndGlyphs">3000</text>
<text x="383.0" y="755.4" font-size="11" font-family='"Liberation Sans", sans-serif' fill="#444" textLength="6" lengthAdjust="spacingAndGlyphs">0</text>
<text x="457.4" y="755.4" font-size="11" font-family='"Liberation Sans", sans-serif' fill="#444" textLength="25.5" lengthAdjust="spacingAndGlyphs">1000</text>
<text x="541.5" y="755.4" font-size="11" font-family='"Liberation Sans", sans-serif' fill="#444" textLength="25.5" lengthAdjust="spacingAndGlyphs">2000</text>
<text x="625.6" y="755.4" font-size="11" font-family='"Liberation Sans", sans-serif' fill="#444" textLength="25.5" lengthAdjust="spacingAndGlyphs">3000</text>
<text transform="translate(18.2,171) rotate(-90)" font-size="13.5" textLength="105.5" lengthAdjust="spacingAndGlyphs"><tspan font-family='"Liberation Serif", serif' fill="#888">Cum</tspan><tspan font-family='"Liberation Sans", sans-serif' fill="#444">ulati</tspan><tspan font-family='"Liberation Serif", serif' fill="#888">ve Probabi</tspan><tspan font-family='"Liberation Sans", sans-serif' font-weight="bold" fill="#555">lity</tspan></text>
<text transform="translate(15.5,437.3) rotate(-90)" font-size="12.5" font-family='"Liberation Serif", serif' fill="#8a8a8a" textLength="126.4" lengthAdjust="spacing">Cumulative Probability</text>
<text transform="translate(8.6,710) rotate(-90)" font-size="12.5" font-family='"Liberation Serif", serif' fill="#8a8a8a" textLength="125.5" lengthAdjust="spacing">Cumulative Probability</text>
<text x="113.3" y="25.2" font-size="15.3" font-family='"Liberation Sans", sans-serif' fill="#333" textLength="162" lengthAdjust="spacingAndGlyphs">Slate belt &amp; river sand</text>
<text x="458.9" y="24.2" font-size="15.3" font-family='"Liberation Sans", sans-serif' fill="#333" textLength="144" lengthAdjust="spacingAndGlyphs">Fold and thrust belt</text>
<text x="116.1" y="283.4" font-size="15.3" font-family='"Liberation Sans", sans-serif' fill="#333" textLength="91" lengthAdjust="spacingAndGlyphs">Tsaohu river</text>
<text x="460.4" y="286.5" font-size="15.3" font-family='"Liberation Sans", sans-serif' fill="#333" textLength="80" lengthAdjust="spacingAndGlyphs">Wuxi River</text>
<text x="73.9" y="552.2" font-size="15.3" font-family='"Liberation Sans", sans-serif' fill="#333" textLength="227" lengthAdjust="spacingAndGlyphs">Hushan Dam and Chi-Chi area</text>
<text x="457.9" y="552.1" font-size="15" font-family='"Liberation Sans", sans-serif' fill="#333">T</text>
<text x="468.4" y="552.1" font-size="16" font-family='"Liberation Serif", serif' fill="#707070" textLength="21.6" lengthAdjust="spacingAndGlyphs">aan</text>
<text x="495.2" y="552.1" font-size="15" font-family='"Liberation Sans", sans-serif' fill="#333" textLength="23.6" lengthAdjust="spacingAndGlyphs">and</text>
<text x="529.3" y="552.1" font-size="15" font-family='"Liberation Sans", sans-serif' fill="#333" textLength="75.7" lengthAdjust="spacingAndGlyphs">Tachia river</text>
<text x="46.1" y="241.3" font-size="19" font-family='"Liberation Sans", sans-serif' fill="#333">(a)</text>
<text x="388.6" y="243.5" font-size="19" font-family='"Liberation Sans", sans-serif' fill="#333">(b)</text>
<text x="46.5" y="510.2" font-size="19" font-family='"Liberation Sans", sans-serif' fill="#333">(c)</text>
<text x="387.9" y="510.2" font-size="19" font-family='"Liberation Sans", sans-serif' fill="#333">(d)</text>
<text x="47.2" y="776.7" font-size="19" font-family='"Liberation Sans", sans-serif' fill="#333">(e)</text>
<text x="386.1" y="775.8" font-size="19" font-family='"Liberation Sans", sans-serif' fill="#333">(f)</text>
<text x="182.8" y="242.5" font-size="11.5" font-family='"Liberation Serif", serif' fill="#888" textLength="16" lengthAdjust="spacingAndGlyphs">Age</text>
<text x="207.0" y="243.0" font-size="11.5" font-family='"Liberation Serif", serif' fill="#888" textLength="18.6" lengthAdjust="spacingAndGlyphs">[Ma]</text>
<text x="520.3" y="244.9" font-size="11.5" font-family='"Liberation Serif", serif' fill="#888" textLength="16" lengthAdjust="spacingAndGlyphs">Age</text>
<text x="544.5" y="245.4" font-size="11.5" font-family='"Liberation Serif", serif' fill="#888" textLength="18.6" lengthAdjust="spacingAndGlyphs">[Ma]</text>
<text x="181.7" y="504.5" font-size="11.5" font-family='"Liberation Serif", serif' fill="#888" textLength="16" lengthAdjust="spacingAndGlyphs">Age</text>
<text x="205.9" y="505.0" font-size="11.5" font-family='"Liberation Serif", serif' fill="#888" textLength="18.6" lengthAdjust="spacingAndGlyphs">[Ma]</text>
<text x="519.9" y="505.1" font-size="11.5" font-family='"Liberation Serif", serif' fill="#888" textLength="16" lengthAdjust="spacingAndGlyphs">Age</text>
<text x="544.1" y="505.6" font-size="11.5" font-family='"Liberation Serif", serif' fill="#888" textLength="18.6" lengthAdjust="spacingAndGlyphs">[Ma]</text>
<text x="181.7" y="772.8" font-size="11.5" font-family='"Liberation Serif", serif' fill="#888" textLength="16" lengthAdjust="spacingAndGlyphs">Age</text>
<text x="205.9" y="773.3" font-size="11.5" font-family='"Liberation Serif", serif' fill="#888" textLength="18.6" lengthAdjust="spacingAndGlyphs">[Ma]</text>
<text x="521.1" y="771.0" font-size="11.5" font-family='"Liberation Serif", serif' fill="#888" textLength="16" lengthAdjust="spacingAndGlyphs">Age</text>
<text x="545.3" y="771.5" font-size="11.5" font-family='"Liberation Serif", serif' fill="#888" textLength="18.6" lengthAdjust="spacingAndGlyphs">[Ma]</text>
</svg>
</body></html>
